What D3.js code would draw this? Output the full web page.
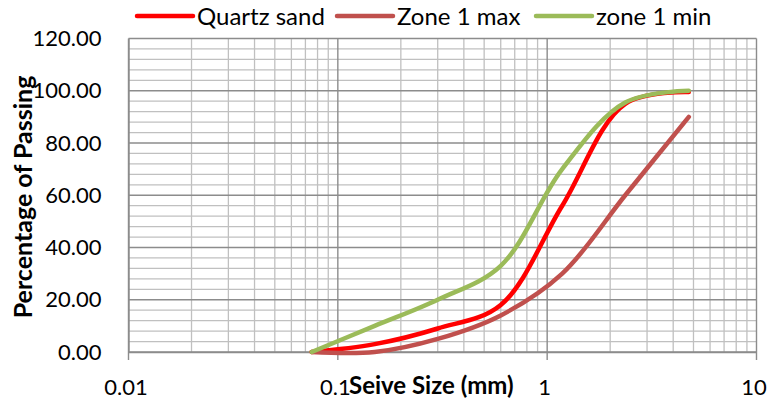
<!DOCTYPE html>
<html>
<head>
<meta charset="utf-8">
<script src="https://cdn.jsdelivr.net/npm/d3@7"></script>
<style>
  body { margin: 0; background: #fff; }
  svg { font-family: Lato, "Open Sans", sans-serif; }
</style>
</head>
<body>
<script>
// sieve sizes in mm and percentage passing
const sieveSize = [0.075, 0.15, 0.3, 0.6, 1.18, 2.36, 4.75];
const quartzSand = [0, 3, 9, 18, 56, 95, 99.5];
const zone1Max = [0, 0, 5, 14, 30, 60, 90];
const zone1Min = [0, 10, 20, 33, 70, 95.5, 100];
const seriesNames = ["Quartz sand", "Zone 1 max", "zone 1 min"];
const seriesColors = ["#FF0000", "#C0504D", "#9BBB59"];
const xTicks = [0.01, 0.1, 1, 10];
const yTicks = [0, 20, 40, 60, 80, 100, 120];

var w = 774, h = 402;
var margin = {top: 38.5, right: 17.5, bottom: 50, left: 128.5};

var svg = d3.select("body")
    .append("svg")
    .attr("width", w)
    .attr("height", h);

var x = d3.scaleLog()
    .domain([0.01, 10])
    .range([margin.left, w - margin.right]);
var y = d3.scaleLinear()
    .domain([0, 120])
    .range([h - margin.bottom, margin.top]);

// minor grid
svg.append("g")
    .selectAll("line")
    .data(x.ticks().filter(function (d) { return xTicks.indexOf(d) < 0; }))
    .enter()
    .append("line")
    .attr("x1", function (d) { return x(d); })
    .attr("x2", function (d) { return x(d); })
    .attr("y1", y(0))
    .attr("y2", y(120))
    .attr("stroke", "#c0c0c0")
    .attr("stroke-width", 1.3);
svg.append("g")
    .selectAll("line")
    .data(d3.range(0, 121, 4).filter(function (d) { return d % 20 != 0; }))
    .enter()
    .append("line")
    .attr("x1", x(0.01))
    .attr("x2", x(10))
    .attr("y1", function (d) { return y(d); })
    .attr("y2", function (d) { return y(d); })
    .attr("stroke", "#c0c0c0")
    .attr("stroke-width", 1.3);

// major grid
svg.append("g")
    .selectAll("line")
    .data(yTicks)
    .enter()
    .append("line")
    .attr("x1", x(0.01))
    .attr("x2", x(10))
    .attr("y1", function (d) { return y(d); })
    .attr("y2", function (d) { return y(d); })
    .attr("stroke", "#8c8c8c")
    .attr("stroke-width", 1.4);
svg.append("g")
    .selectAll("line")
    .data(xTicks)
    .enter()
    .append("line")
    .attr("x1", function (d) { return x(d); })
    .attr("x2", function (d) { return x(d); })
    .attr("y1", y(0) + 8)
    .attr("y2", y(120))
    .attr("stroke", "#8c8c8c")
    .attr("stroke-width", 1.4);

// axes
var xAxis = svg.append("g")
    .attr("transform", "translate(0," + y(0) + ")")
    .call(d3.axisBottom(x).tickValues(xTicks).tickFormat(d3.format("~g")).tickSize(0).tickPadding(27));
var yAxis = svg.append("g")
    .attr("transform", "translate(" + x(0.01) + ",0)")
    .call(d3.axisLeft(y).tickValues(yTicks).tickFormat(d3.format(".2f")).tickSize(0).tickPadding(27));
[xAxis, yAxis].forEach(function (a) {
    a.select(".domain").attr("stroke", "#8c8c8c").attr("stroke-width", 1.4);
    a.selectAll("text")
        .attr("font-family", "Lato, sans-serif")
        .attr("font-size", "22px")
        .attr("fill", "#000");
});
xAxis.selectAll(".tick text").attr("dx", -3);

svg.append("text")
    .text("Seive Size (mm)")
    .attr("x", 349)
    .attr("y", 394)
    .attr("text-anchor", "start")
    .attr("font-weight", "bold")
    .attr("font-size", "24px");
svg.append("text")
    .text("Percentage of Passing")
    .attr("transform", "translate(32,197) rotate(-90)")
    .attr("text-anchor", "middle")
    .attr("font-weight", "bold")
    .attr("font-size", "25px");

// curves
var seriesData = [quartzSand, zone1Max, zone1Min];
var line = d3.line()
    .x(function (d, i) { return x(sieveSize[i]); })
    .y(function (d) { return y(d); })
    .curve(d3.curveCatmullRom.alpha(0.5));

svg.selectAll("path.series")
    .data(seriesData)
    .enter()
    .append("path")
    .attr("class", "series")
    .attr("d", line)
    .attr("fill", "none")
    .attr("stroke", function (d, i) { return seriesColors[i]; })
    .attr("stroke-width", 4.5)
    .attr("stroke-linecap", "round")
    .attr("stroke-linejoin", "round");

// legend
var legendX = [137, 337, 536];
var legend = svg.selectAll("g.legend")
    .data(seriesNames)
    .enter()
    .append("g")
    .attr("class", "legend")
    .attr("transform", function (d, i) { return "translate(" + legendX[i] + ",16)"; });
legend.append("line")
    .attr("x1", 0)
    .attr("x2", 56)
    .attr("stroke", function (d, i) { return seriesColors[i]; })
    .attr("stroke-width", 4.5)
    .attr("stroke-linecap", "round");
legend.append("text")
    .text(function (d) { return d; })
    .attr("x", 60)
    .attr("dy", "0.36em")
    .attr("font-size", "24px");
</script>
</body>
</html>
